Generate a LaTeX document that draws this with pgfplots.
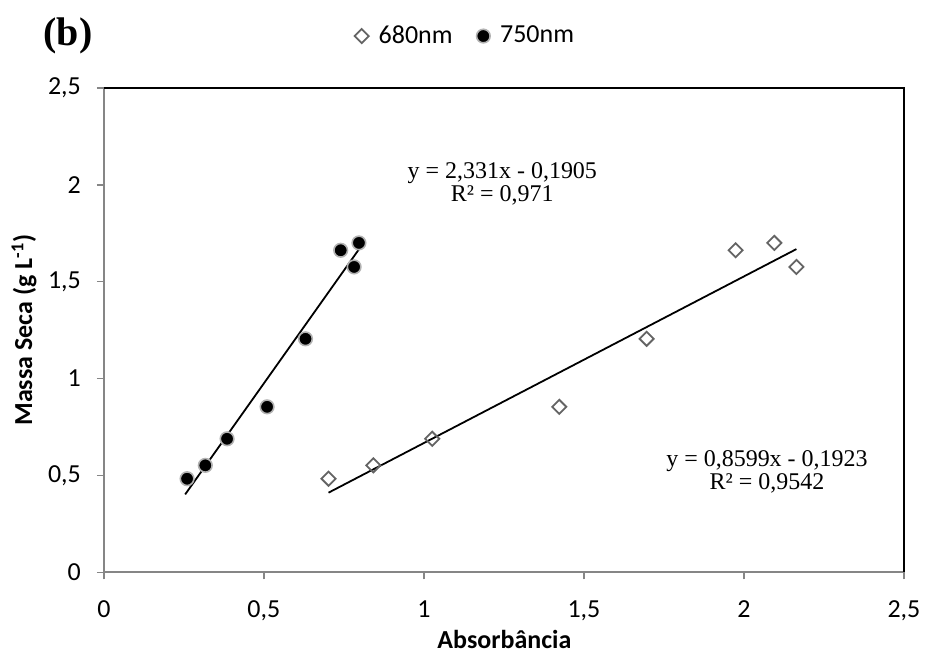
\documentclass[border=0pt]{standalone}
\usepackage{fontspec}
\setmainfont{Carlito}
\newfontfamily\timesfont{Liberation Serif}
\usepackage{pgfplots}
\pgfplotsset{compat=1.18}
\definecolor{axisgray}{RGB}{134,134,134}
\definecolor{diagray}{RGB}{100,100,100}

\begin{document}
\begin{tikzpicture}
\begin{axis}[
  width=400.5pt, height=242.5pt, scale only axis,
  xmin=0, xmax=2.5, ymin=0, ymax=2.5,
  xtick={0,0.5,1,1.5,2,2.5}, ytick={0,0.5,1,1.5,2,2.5},
  axis x line*=bottom, axis y line*=left,
  axis line style={draw=axisgray, line width=0.9pt, -},
  tick style={draw=axisgray, line width=0.8pt},
  tick align=outside, major tick length=3.5pt,
  /pgf/number format/use comma,
  /pgf/number format/assume math mode=true,
  ticklabel style={font=\fontsize{13}{15}\selectfont},
  xticklabel style={yshift=-7pt},
  yticklabel style={xshift=-4.5pt},
  label style={font=\bfseries\fontsize{13}{15}\selectfont},
  xlabel={Absorbância},
  ylabel={Massa Seca (g L\textsuperscript{-1})},
  xlabel style={at={(rel axis cs:0.5006,-0.138)}, anchor=center},
  ylabel style={at={(rel axis cs:-0.0999,0.5)}, anchor=center},
  clip=false,
  legend style={at={(rel axis cs:0.453,1.107)}, anchor=center, draw=none,
    legend columns=2, font=\fontsize{13}{15}\selectfont,
    /tikz/every odd column/.append style={column sep=3pt},
    /tikz/every even column/.append style={column sep=10pt}},
  legend cell align=left,
]
% 680 nm
\addplot[only marks, mark=square, mark size=2.5pt,
  mark options={draw=diagray, fill=white, line width=0.9pt, rotate=45}]
  coordinates {(0.702,0.483) (0.842,0.552) (1.026,0.689) (1.423,0.854)
               (1.696,1.205) (1.974,1.662) (2.095,1.700) (2.164,1.576)};
\addlegendentry{680nm}
% 750 nm
\addplot[only marks, mark=*, mark size=3.4pt,
  mark options={draw=gray!60, fill=black, line width=0.8pt}]
  coordinates {(0.260,0.483) (0.317,0.552) (0.385,0.689) (0.510,0.854)
               (0.630,1.205) (0.740,1.662) (0.797,1.700) (0.782,1.576)};
\addlegendentry{750nm}
% trend lines
\addplot[black, line width=0.9pt, forget plot] coordinates {(0.254,0.402) (0.797,1.667)};
\addplot[black, line width=0.9pt, forget plot] coordinates {(0.702,0.411) (2.164,1.668)};

\draw[black, line width=0.9pt] (rel axis cs:0,1) -- (rel axis cs:1,1) -- (rel axis cs:1,0);

\node[font=\timesfont\fontsize{12}{11.5}\selectfont, align=center]
  at (axis cs:1.245,2.005) {y = 2,331x - 0,1905\\R² = 0,971};
\node[font=\timesfont\fontsize{12}{11.5}\selectfont, align=center]
  at (axis cs:2.072,0.52) {y = 0,8599x - 0,1923\\R² = 0,9542};
\node[font=\timesfont\bfseries\fontsize{20}{22}\selectfont]
  at (rel axis cs:-0.0449,1.108) {(b)};

\path (rel axis cs:-0.12984,-0.17732) rectangle (rel axis cs:1.02747,1.18144);
\end{axis}
\end{tikzpicture}
\end{document}
